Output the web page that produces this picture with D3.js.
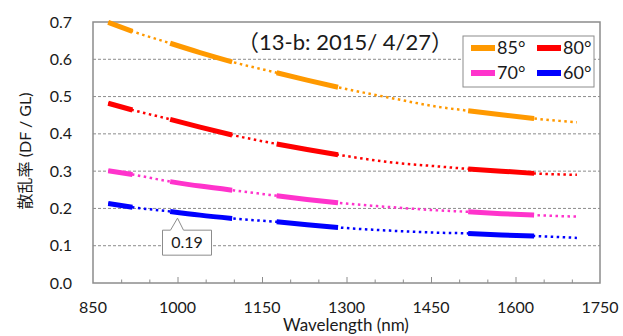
<!DOCTYPE html>
<html>
<head>
<meta charset="utf-8">
<script src="https://cdn.jsdelivr.net/npm/d3@7"></script>
<style>
  body { margin: 0; background: #fff; }
  svg text { font-family: Lato, "Noto Sans CJK JP", sans-serif; fill: #1a1a1a; }
</style>
</head>
<body>
<div id="chart"></div>
<script>
// wavelengths of the fitted curve (nm)
var fitWl = [877, 920, 987, 1040, 1097, 1176, 1230, 1285, 1383, 1460, 1516, 1575, 1633, 1709];
// scattering ratio
var deg85 = [0.699, 0.675, 0.643, 0.618, 0.593, 0.564, 0.544, 0.525, 0.495, 0.473, 0.462, 0.451, 0.441, 0.431];
var deg80 = [0.482, 0.464, 0.439, 0.418, 0.397, 0.373, 0.358, 0.344, 0.323, 0.313, 0.306, 0.300, 0.294, 0.290];
var deg70 = [0.301, 0.291, 0.272, 0.260, 0.249, 0.234, 0.224, 0.215, 0.203, 0.195, 0.191, 0.186, 0.182, 0.178];
var deg60 = [0.213, 0.203, 0.192, 0.182, 0.173, 0.164, 0.156, 0.149, 0.140, 0.135, 0.133, 0.129, 0.126, 0.121];
// measured bands drawn thick
var bands = [[877, 920], [987, 1097], [1176, 1285], [1516, 1633]];
var seriesNames = ["85°", "80°", "70°", "60°"];
var seriesColors = ["#ff9900", "#ff0000", "#ff33cc", "#0000ff"];
var xTicks = [850, 1000, 1150, 1300, 1450, 1600, 1750];
var yTicks = [0, 0.1, 0.2, 0.3, 0.4, 0.5, 0.6, 0.7];
var callout = { wl: 1000, value: 0.19, label: "0.19" };

var width = 623, height = 336;
var margin = { left: 93, right: 23, top: 22, bottom: 53 };

var svg = d3.select("#chart").append("svg")
    .attr("width", width)
    .attr("height", height);

var x = d3.scaleLinear().domain([850, 1750]).range([margin.left, width - margin.right]);
var y = d3.scaleLinear().domain([0, 0.7]).range([height - margin.bottom, margin.top]);

// gridlines
svg.append("g")
    .selectAll("line")
    .data(yTicks.filter(function (d) { return d > 0 && d < 0.7; }))
    .join("line")
    .attr("x1", x(850)).attr("x2", x(1750))
    .attr("y1", function (d) { return y(d); })
    .attr("y2", function (d) { return y(d); })
    .attr("stroke", "#8c8c8c")
    .attr("stroke-width", 1)
    .attr("stroke-dasharray", "3,2");

// x minor/major ticks pointing inward
var xAxis = svg.append("g")
    .attr("transform", "translate(0," + y(0) + ")")
    .call(d3.axisBottom(x).tickValues(d3.range(900, 1750, 50)).tickSize(-4).tickFormat(""));
xAxis.select(".domain").remove();
xAxis.selectAll("line")
    .attr("stroke", "#8c8c8c")
    .attr("y2", function (d) { return (d - 850) % 150 === 0 ? -6 : -3.5; });

// plot border
svg.append("rect")
    .attr("x", x(850)).attr("y", y(0.7))
    .attr("width", x(1750) - x(850))
    .attr("height", y(0) - y(0.7))
    .attr("fill", "none")
    .attr("stroke", "#8c8c8c")
    .attr("stroke-width", 1.5);

// tick labels
svg.append("g")
    .selectAll("text")
    .data(yTicks)
    .join("text")
    .attr("x", 72)
    .attr("y", function (d) { return y(d); })
    .attr("dy", "0.35em")
    .attr("text-anchor", "end")
    .style("font-size", "16px")
    .text(function (d) { return d.toFixed(1); });

svg.append("g")
    .selectAll("text")
    .data(xTicks)
    .join("text")
    .attr("x", function (d) { return x(d); })
    .attr("y", 307)
    .attr("dy", "0.35em")
    .attr("text-anchor", "middle")
    .style("font-size", "16px")
    .text(function (d) { return d; });

// axis titles
svg.append("text")
    .attr("x", 346).attr("y", 325)
    .attr("dy", "0.35em")
    .attr("text-anchor", "middle")
    .style("font-size", "17px")
    .text("Wavelength (nm)");

svg.append("text")
    .attr("transform", "translate(25,151) rotate(-90)")
    .attr("dy", "0.35em")
    .attr("text-anchor", "middle")
    .style("font-size", "16px")
    .text("散乱率 (DF / GL)");

// curves
var allSeries = [deg85, deg80, deg70, deg60];
var line = d3.line()
    .x(function (d) { return x(d[0]); })
    .y(function (d) { return y(d[1]); })
    .curve(d3.curveMonotoneX);

var curves = svg.append("g");
allSeries.forEach(function (vals, i) {
    var pts = fitWl.map(function (w, j) { return [w, vals[j]]; });
    // fitted curve, dotted
    curves.append("path")
        .attr("d", line(pts))
        .attr("fill", "none")
        .attr("stroke", seriesColors[i])
        .attr("stroke-width", 2.5)
        .attr("stroke-dasharray", "2.5,3.5");
    // measured bands, thick
    bands.forEach(function (b) {
        var seg = pts.filter(function (p) { return p[0] >= b[0] && p[0] <= b[1]; });
        curves.append("path")
            .attr("d", line(seg))
            .attr("fill", "none")
            .attr("stroke", seriesColors[i])
            .attr("stroke-width", 5);
    });
});

// callout
var cx = x(callout.wl), cy = y(callout.value) + 6;
var boxL = cx - 15, boxR = cx + 34, boxT = cy + 12, boxB = cy + 37;
svg.append("path")
    .attr("d", "M" + boxL + "," + boxT + "H" + (cx - 7) + "L" + cx + "," + cy + "L" + (cx + 6) + "," + boxT +
        "H" + boxR + "V" + boxB + "H" + boxL + "Z")
    .attr("fill", "#fff")
    .attr("stroke", "#8c8c8c")
    .attr("stroke-width", 1);
svg.append("text")
    .attr("x", (boxL + boxR) / 2).attr("y", (boxT + boxB) / 2)
    .attr("dy", "0.35em")
    .attr("text-anchor", "middle")
    .style("font-size", "16px")
    .text(callout.label);

// title
svg.append("text")
    .attr("x", 345).attr("y", 42)
    .attr("dy", "0.35em")
    .attr("text-anchor", "middle")
    .style("font-size", "22px")
    .text("（13-b: 2015/ 4/27）");

// legend
var legend = svg.append("g").attr("transform", "translate(463,36)");
legend.append("rect")
    .attr("width", 131).attr("height", 51)
    .attr("fill", "#fff")
    .attr("stroke", "#8c8c8c")
    .attr("stroke-width", 1);
var items = legend.selectAll("g.item")
    .data(seriesNames)
    .join("g")
    .attr("class", "item")
    .attr("transform", function (d, i) {
        return "translate(" + (8 + (i % 2) * 66) + "," + (12 + Math.floor(i / 2) * 25) + ")";
    });
items.append("line")
    .attr("x1", 0).attr("x2", 24)
    .attr("stroke", function (d, i) { return seriesColors[i]; })
    .attr("stroke-width", 6);
items.append("text")
    .attr("x", 26)
    .attr("dy", "0.35em")
    .style("font-size", "18px")
    .text(function (d) { return d; });
</script>
</body>
</html>
